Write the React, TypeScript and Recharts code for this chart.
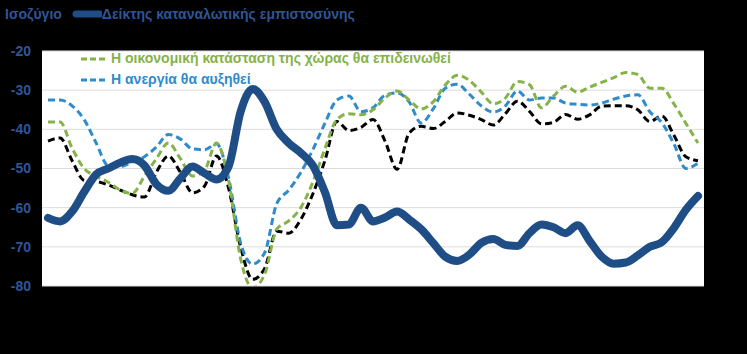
import React from "react"
import { CartesianGrid, Line, LineChart, XAxis, YAxis } from "recharts"

// monthly balances (55 periods)
const confidence = [
  -62.6, -63.5, -61, -56, -51.5, -50, -48.5, -47.6, -49.2, -54, -55.7, -52.5, -49.5, -51.2,
  -52.8, -49.5, -35.5, -29.7, -33, -40, -43.5, -46, -49.2, -56, -64.5, -64.3, -60, -63.5,
  -62.5, -61, -63, -65.5, -69, -72.5, -73.6, -72, -69, -68, -69.5, -69.8, -66.5, -64.3, -65,
  -66.5, -64.5, -68.5, -72.5, -74.3, -74, -72.2, -70, -68.8, -65.2, -60.5, -57,
]

const economyWorse = [
  -38.1, -38.1, -44.8, -50, -52, -53.5, -55.5, -56.4, -52, -47.5, -43.5, -47.5, -51.9, -50.5,
  -43.5, -53, -73, -80.5, -77, -65.5, -63.4, -60, -53.5, -45, -37.5, -36, -36.3, -35, -32,
  -30.2, -32.5, -34.8, -33, -28.7, -26.2, -27.5, -30.5, -33.5, -32, -27.8, -28.6, -34.5, -31.5,
  -29, -30.5, -29.2, -28, -26.8, -25.5, -26, -29.5, -29.5, -33.5, -38.5, -43.5,
]

const unemploymentUp = [
  -32.5, -32.5, -34, -37.5, -43.5, -49.3, -49.5, -48.3, -47, -44.5, -41.3, -42.5, -45, -45.2,
  -43.7, -52.4, -69, -74.4, -71.5, -59, -55.5, -51, -45.2, -38.5, -32.5, -31.5, -35.5, -34.5,
  -31.3, -30.7, -33, -38.4, -34.8, -29.5, -28.5, -31, -34, -35.6, -34, -30.2, -32.5, -32, -32,
  -33.3, -33.6, -33.8, -33.3, -32.3, -31.5, -31.2, -35.5, -38.3, -43.7, -50, -48.6,
]

const otherBalance = [
  -43, -42.2, -48, -53, -53.3, -54.2, -55.5, -56.7, -57.3, -51, -46.8, -51, -56.2, -54.5,
  -46.8, -55, -70, -78.3, -75.5, -66, -66.5, -63, -56.5, -48, -38, -40.3, -39.5, -37.5, -43,
  -50.2, -41, -39.2, -39.8, -38, -35.8, -36.4, -37.5, -38.9, -36, -32.8, -35.4, -38.6, -38.2,
  -36.2, -37.4, -36.3, -34.1, -34, -34, -35, -38, -36.6, -41.5, -47, -48,
]

const yTicks = [-80, -70, -60, -50, -40, -30, -20]

const data = confidence.map((v, i) => ({
  i,
  confidence: v,
  economy: economyWorse[i],
  unemployment: unemploymentUp[i],
  other: otherBalance[i],
}))

const BLUE_TEXT = "#2f5597"
const NAVY = "#1f4e86"
const GREEN = "#86b24a"
const LIGHT_BLUE = "#2e8bcc"
const FONT = "'Liberation Sans', Arial, sans-serif"

function DashSample({ color }: { color: string }) {
  return (
    <svg width={28} height={6} style={{ marginRight: 3 }}>
      <line x1={1} y1={3} x2={27} y2={3} stroke={color} strokeWidth={3} strokeDasharray="6 3" />
    </svg>
  )
}

export default function App() {
  return (
    <div
      style={{
        position: "absolute",
        left: 0,
        top: 0,
        width: 747,
        height: 354,
        background: "#000",
        fontFamily: FONT,
      }}
    >
      <LineChart
        width={747}
        height={354}
        data={data}
        margin={{ top: 51, right: 43, bottom: 68, left: 0 }}
      >
        <CartesianGrid vertical={false} stroke="#dcdcdc" fill="#ffffff" />
        <XAxis type="number" dataKey="i" domain={[-0.5, 54.5]} hide />
        <YAxis
          width={42}
          domain={[-80, -20]}
          ticks={yTicks}
          allowDataOverflow
          axisLine={false}
          tickLine={false}
          tickMargin={5}
          tick={{ fill: BLUE_TEXT, fontSize: 14, fontWeight: "bold", fontFamily: FONT }}
        />
        <Line
          type="monotone"
          dataKey="other"
          stroke="#000000"
          strokeWidth={3}
          strokeDasharray="7 4"
          dot={false}
          isAnimationActive={false}
        />
        <Line
          type="monotone"
          dataKey="unemployment"
          stroke={LIGHT_BLUE}
          strokeWidth={3}
          strokeDasharray="7 4"
          dot={false}
          isAnimationActive={false}
        />
        <Line
          type="monotone"
          dataKey="economy"
          stroke={GREEN}
          strokeWidth={3}
          strokeDasharray="7 4"
          dot={false}
          isAnimationActive={false}
        />
        <Line
          type="monotone"
          dataKey="confidence"
          stroke={NAVY}
          strokeWidth={8}
          strokeLinecap="round"
          dot={false}
          isAnimationActive={false}
        />
      </LineChart>

      {/* header: axis title and main legend */}
      <div
        style={{
          position: "absolute",
          left: 5,
          top: 6,
          display: "flex",
          alignItems: "center",
          color: BLUE_TEXT,
          fontSize: 14,
          fontWeight: "bold",
          whiteSpace: "nowrap",
        }}
      >
        <span>Ισοζύγιο</span>
        <svg width={30} height={8} style={{ marginLeft: 10 }}>
          <line x1={4} y1={4} x2={28} y2={4} stroke={NAVY} strokeWidth={7} strokeLinecap="round" />
        </svg>
        <span>Δείκτης καταναλωτικής εμπιστοσύνης</span>
      </div>

      {/* legend inside the plot */}
      <div
        style={{
          position: "absolute",
          left: 80,
          top: 48,
          fontSize: 14,
          fontWeight: "bold",
          lineHeight: "21px",
          whiteSpace: "nowrap",
        }}
      >
        <div style={{ display: "flex", alignItems: "center", color: GREEN }}>
          <DashSample color={GREEN} />
          <span>Η οικονομική κατάσταση της χώρας θα επιδεινωθεί</span>
        </div>
        <div style={{ display: "flex", alignItems: "center", color: LIGHT_BLUE }}>
          <DashSample color={LIGHT_BLUE} />
          <span>Η ανεργία θα αυξηθεί</span>
        </div>
      </div>
    </div>
  )
}
